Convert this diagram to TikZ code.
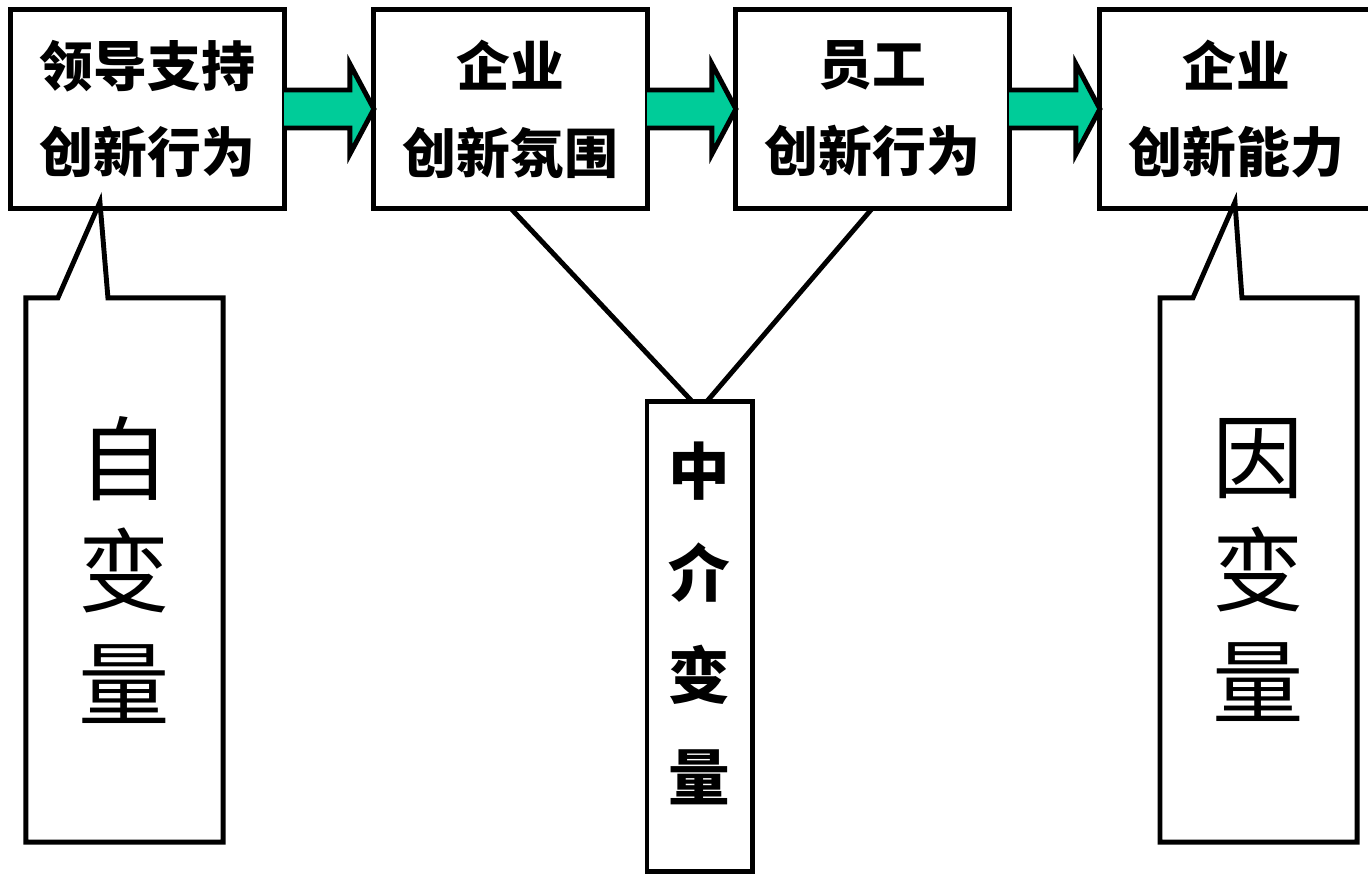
\documentclass[tikz,border=0pt]{standalone}
\usepackage{fontspec}
\setmainfont{Noto Sans CJK SC}
\usetikzlibrary{calc, positioning}

\begin{document}
\begin{tikzpicture}[x=0.01cm, y=-0.01cm]
    \tikzset{
      stage/.style={
        rectangle, draw, line width=1.4pt, outer sep=0pt,
        minimum width=2.73cm, minimum height=1.98cm,
        align=center, font=\bfseries\fontsize{15.3}{24.7}\selectfont,
      },
      flow/.style={
        draw, line width=1.4pt, line join=miter,
        fill={rgb,255:red,0;green,204;blue,153},
      },
      frame/.style={
        draw, line width=1.4pt, line join=miter,
      },
      role/.style={
        rectangle, outer sep=0pt, minimum width=1.97cm, minimum height=5.44cm,
        align=center, font=\fontsize{26}{32}\selectfont,
      },
      mediator/.style={
        rectangle, draw, line width=1.4pt, outer sep=0pt,
        minimum width=1.05cm, minimum height=4.69cm, text depth=0.3cm,
        align=center, font=\bfseries\fontsize{17.5}{29}\selectfont,
      },
    }

    \useasboundingbox (0,0) rectangle (1368,874);

    \node[stage] (lead) at (147.5,109) {领导支持\\创新行为};
    \node[stage] (climate) at (510.5,109) {企业\\创新氛围};
    \node[stage] (staff) at (872.5,109) {员工\\创新行为};
    \node[stage] (ability) at (1236.5,109) {企业\\创新能力};

    \draw[flow] ($(lead.east)+(0,-19)$) -- ($(climate.west)+(-24,-19)$)
      -- ($(climate.west)+(-24,-45)$) -- (climate.west)
      -- ($(climate.west)+(-24,45)$) -- ($(climate.west)+(-24,19)$)
      -- ($(lead.east)+(0,19)$);
    \draw[flow] ($(climate.east)+(0,-19)$) -- ($(staff.west)+(-24,-19)$)
      -- ($(staff.west)+(-24,-45)$) -- (staff.west)
      -- ($(staff.west)+(-24,45)$) -- ($(staff.west)+(-24,19)$)
      -- ($(climate.east)+(0,19)$);
    \draw[flow] ($(staff.east)+(0,-19)$) -- ($(ability.west)+(-24,-19)$)
      -- ($(ability.west)+(-24,-45)$) -- (ability.west)
      -- ($(ability.west)+(-24,45)$) -- ($(ability.west)+(-24,19)$)
      -- ($(staff.east)+(0,19)$);

    % callouts
    \node[role] (iv) at (124.5,570) {自\\变\\量};
    \draw[frame] ($(iv.north west)+(32,0)$) -- ($(lead.south west)+(89,-6)$)
      -- ($(iv.north west)+(82,0)$) -- (iv.north east) -- (iv.south east)
      -- (iv.south west) -- (iv.north west) -- cycle;

    \node[role] (dv) at (1258.5,570) {因\\变\\量};
    \draw[frame] ($(dv.north west)+(33,0)$) -- ($(ability.south west)+(135,-6)$)
      -- ($(dv.north west)+(82,0)$) -- (dv.north east) -- (dv.south east)
      -- (dv.south west) -- (dv.north west) -- cycle;

    \node[mediator] (mv) at (699.5,636.5) {中\\介\\变\\量};
    \draw[frame] (climate.south) -- ($(mv.north)+(-7,0)$);
    \draw[frame] (staff.south) -- ($(mv.north)+(7,0)$);
\end{tikzpicture}
\end{document}
